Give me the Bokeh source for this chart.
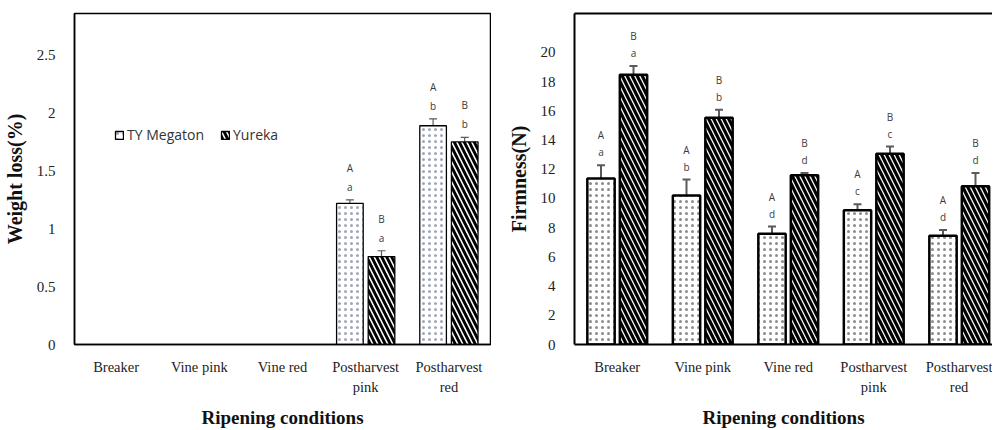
import numpy as np
from bokeh.plotting import figure
from bokeh.models import (ColumnDataSource, Whisker, FixedTicker, NumeralTickFormatter,
                          Legend, LegendItem, LinearAxis, Range1d, TeeHead)
from bokeh.layouts import row
from bokeh.embed import file_html
from bokeh.resources import INLINE
from bokeh.core.properties import value

nan = float("nan")

categories = ["Breaker", "Vine pink", "Vine red", "Postharvest\npink", "Postharvest\nred"]
series_names = ["TY Megaton", "Yureka"]

# Weight loss (%)
wl_ty = [nan, nan, nan, 1.22, 1.89]
wl_ty_err = [nan, nan, nan, 0.03, 0.06]
wl_yu = [nan, nan, nan, 0.76, 1.75]
wl_yu_err = [nan, nan, nan, 0.05, 0.04]
wl_ty_upper = ["", "", "", "A", "A"]
wl_ty_lower = ["", "", "", "a", "b"]
wl_yu_upper = ["", "", "", "B", "B"]
wl_yu_lower = ["", "", "", "a", "b"]

# Firmness (N)
fm_ty = [11.37, 10.2, 7.58, 9.2, 7.44]
fm_ty_err = [0.9, 1.1, 0.5, 0.4, 0.4]
fm_yu = [18.47, 15.53, 11.6, 13.06, 10.84]
fm_yu_err = [0.6, 0.55, 0.15, 0.5, 0.9]
fm_ty_upper = ["A", "A", "A", "A", "A"]
fm_ty_lower = ["a", "b", "d", "c", "d"]
fm_yu_upper = ["B", "B", "B", "B", "B"]
fm_yu_lower = ["a", "b", "d", "c", "d"]

wl_yticks = [0, 0.5, 1, 1.5, 2, 2.5]
fm_yticks = [0, 2, 4, 6, 8, 10, 12, 14, 16, 18, 20]

SERIF = "Liberation Serif"
SANS = "Open Sans"
ERR_COLOR = "#5a5a5a"


def make_chart(ty, ty_err, yu, yu_err, ty_up, ty_lo, yu_up, yu_lo, ylabel, yend, yticks,
               xend, frame_w, border_left, border_right, heavy, fmt, legend, full_box):
    p = figure(frame_width=frame_w, frame_height=331, output_backend="svg",
               toolbar_location=None, x_range=Range1d(0, xend), y_range=Range1d(0, yend),
               min_border_left=border_left, min_border_right=border_right,
               min_border_top=13, min_border_bottom=80)
    p.grid.grid_line_color = None
    p.background_fill_color = "white"
    p.border_fill_color = "white"
    lw = 2.5 if heavy else 1.3
    idx = np.arange(len(categories)) + 0.5
    off = 0.19
    width = 0.32
    renderers = []
    for k, (vals, errs, up, lo) in enumerate([(ty, ty_err, ty_up, ty_lo),
                                              (yu, yu_err, yu_up, yu_lo)]):
        v = np.array(vals, dtype=float)
        e = np.array(errs, dtype=float)
        m = np.isfinite(v)
        xs = idx[m] + (-off if k == 0 else off)
        src = ColumnDataSource(dict(x=xs, top=v[m], upper=v[m] + e[m], lower=v[m] - e[m],
                                    up=[up[i] for i in range(len(up)) if m[i]],
                                    lo=[lo[i] for i in range(len(lo)) if m[i]]))
        if k == 0:
            r = p.vbar(x="x", top="top", width=width, source=src, fill_color="white",
                       line_color="black", line_width=lw, hatch_pattern="dot",
                       hatch_color="#8c8c8c" if heavy else "#a0a6ba", hatch_scale=6,
                       hatch_weight=0.4)
        else:
            r = p.vbar(x="x", top="top", width=width, source=src, fill_color="white",
                       line_color="black", line_width=lw,
                       hatch_pattern="left_diagonal_line", hatch_color="black",
                       hatch_scale=10, hatch_weight=3.2 if heavy else 2.9)
        renderers.append(r)
        ew = 2 if heavy else 1.2
        w = Whisker(base="x", upper="upper", lower="lower", source=src, dimension="height",
                    line_color=ERR_COLOR, line_width=ew,
                    upper_head=TeeHead(size=8, line_color=ERR_COLOR, line_width=ew),
                    lower_head=TeeHead(size=8, line_color=ERR_COLOR, line_width=ew))
        p.add_layout(w)
        gap = 13
        step = 17 if heavy else 19
        p.text(x="x", y="upper", text="lo", source=src, y_offset=-gap,
               text_align="center", text_baseline="middle", text_font=value(SANS),
               text_font_size="10px", text_color="#3a3a3a")
        p.text(x="x", y="upper", text="up", source=src, y_offset=-(gap + step),
               text_align="center", text_baseline="middle", text_font=value(SANS),
               text_font_size="10px", text_color="#3a3a3a")

    # axes
    xa = p.xaxis[0]
    xa.ticker = FixedTicker(ticks=list(idx))
    xa.major_label_overrides = {float(t): c for t, c in zip(idx, categories)}
    xa.major_tick_line_color = None
    xa.minor_tick_line_color = None
    xa.axis_line_color = "black"
    xa.axis_line_width = 2 if heavy else 1.5
    xa.major_label_text_font = SERIF
    xa.major_label_text_font_size = "14.5px"
    xa.major_label_text_color = "#222222"
    xa.major_label_standoff = 8
    xa.major_label_text_line_height = 1.3
    xa.axis_label = "Ripening conditions"
    xa.axis_label_text_font = SERIF
    xa.axis_label_text_font_style = "bold"
    xa.axis_label_text_font_size = "19px"
    xa.axis_label_text_color = "#111111"
    xa.axis_label_standoff = 9

    ya = p.yaxis[0]
    ya.ticker = FixedTicker(ticks=yticks)
    ya.formatter = NumeralTickFormatter(format=fmt)
    ya.major_tick_line_color = None
    ya.minor_tick_line_color = None
    ya.axis_line_color = "black"
    ya.axis_line_width = 2 if heavy else 1.5
    ya.major_label_text_font = SERIF
    ya.major_label_text_font_size = "15px"
    ya.major_label_text_color = "#222222"
    ya.major_label_standoff = 13
    ya.axis_label = ylabel
    ya.axis_label_text_font = SERIF
    ya.axis_label_text_font_style = "bold"
    ya.axis_label_text_font_size = "20px"
    ya.axis_label_text_color = "#111111"
    ya.axis_label_standoff = 8

    if full_box:
        p.outline_line_color = "black"
        p.outline_line_width = 1.5
    else:
        p.outline_line_color = None
        top = LinearAxis(ticker=FixedTicker(ticks=[]), axis_line_color="black",
                         axis_line_width=2, major_tick_line_color=None,
                         minor_tick_line_color=None, major_label_text_font_size="0px")
        p.add_layout(top, "above")

    if legend:
        lg = Legend(items=[LegendItem(label=series_names[0], renderers=[renderers[0]]),
                           LegendItem(label=series_names[1], renderers=[renderers[1]])],
                    location=(40, 200), orientation="horizontal",
                    border_line_color=None, background_fill_alpha=0,
                    label_text_font=SANS, label_text_font_size="14px",
                    label_text_color="#333333", glyph_width=10, glyph_height=10,
                    label_standoff=3, spacing=16, padding=0, margin=0,
                    label_height=14)
        p.add_layout(lg, "center")
    return p


p1 = make_chart(wl_ty, wl_ty_err, wl_yu, wl_yu_err, wl_ty_upper, wl_ty_lower,
                wl_yu_upper, wl_yu_lower, "Weight loss(%)", 2.86, wl_yticks,
                5.0, 416, 65, 1, False, "0.[0]", True, True)
p2 = make_chart(fm_ty, fm_ty_err, fm_yu, fm_yu_err, fm_ty_upper, fm_ty_lower,
                fm_yu_upper, fm_yu_lower, "Firmness(N)", 22.67, fm_yticks,
                418 / 85.5, 418, 83, 0, True, "0", False, False)

layout = row(p1, p2)
open("out.html", "w").write(file_html(layout, INLINE))
